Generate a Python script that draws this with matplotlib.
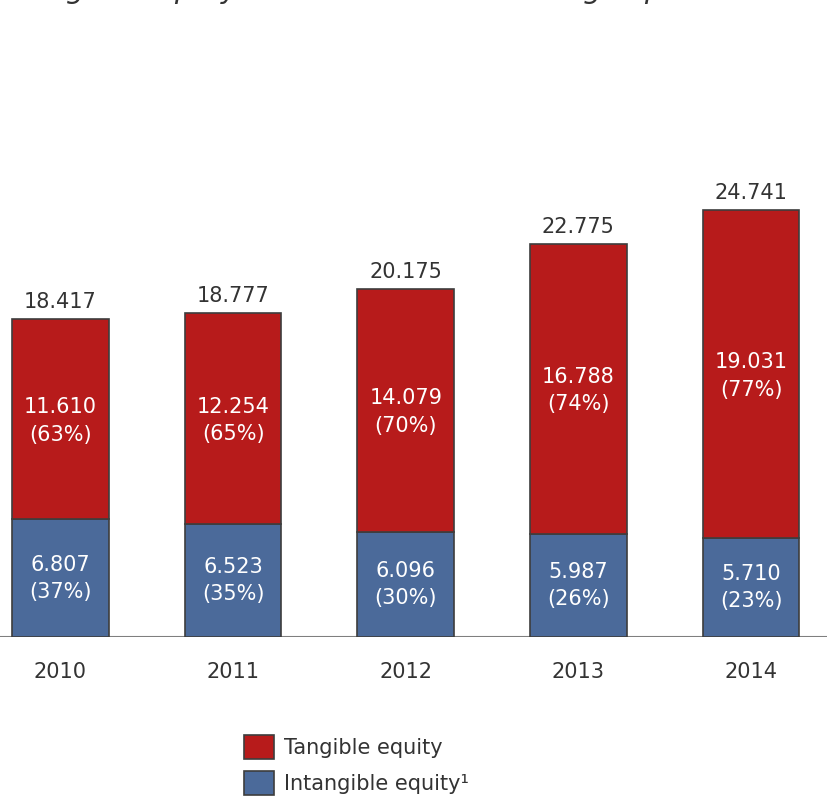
import numpy as np
import matplotlib
matplotlib.use("Agg")
import matplotlib.pyplot as plt
from matplotlib.patches import Patch

years = ["2010", "2011", "2012", "2013", "2014"]
intangible = [6.807, 6.523, 6.096, 5.987, 5.710]
tangible = [11.610, 12.254, 14.079, 16.788, 19.031]
totals = ["18.417", "18.777", "20.175", "22.775", "24.741"]
tangible_pct = ["63%", "65%", "70%", "74%", "77%"]
intangible_pct = ["37%", "35%", "30%", "26%", "23%"]

red = "#B71B1B"
blue = "#4B6A9A"
edge = "#3D3D3D"
txt = "#333333"

plt.rcParams["font.family"] = "DejaVu Sans"

fig = plt.figure(figsize=(8.27, 7.96), dpi=100)
ax = fig.add_axes([0, 0.2, 1, 0.8])

x = np.arange(len(years))
w = 0.56
tot = np.array(intangible) + np.array(tangible)

ax.bar(x, intangible, w, color=blue, edgecolor=edge, linewidth=1.2, zorder=2)
ax.bar(x, tangible, w, bottom=intangible, color=red, edgecolor=edge,
       linewidth=1.2, zorder=2)

for i in range(len(years)):
    ax.text(x[i], intangible[i] / 2, "%.3f\n(%s)" % (intangible[i], intangible_pct[i]),
            ha="center", va="center", color="white", fontsize=15,
            linespacing=1.45, zorder=3)
    ax.text(x[i], intangible[i] + tangible[i] / 2 - 0.1,
            "%.3f\n(%s)" % (tangible[i], tangible_pct[i]),
            ha="center", va="center", color="white", fontsize=15,
            linespacing=1.45, zorder=3)
    ax.text(x[i], tot[i] + 0.4, totals[i], ha="center", va="bottom",
            color=txt, fontsize=15)
    ax.text(x[i], -2.05, years[i], ha="center", va="center", color=txt,
            fontsize=15)

ax.set_xlim(-0.35, 4.44)
ax.set_ylim(0, 36.93)
ax.axhline(0, color="#7F7F7F", linewidth=1.5, zorder=1)
ax.axis("off")

# title sits mostly above the top edge of the figure
fig.text(0.018, 1.002, "Tangible equity and the best accounting capital",
         fontsize=21, style="italic", color=txt, ha="left", va="baseline")

handles = [Patch(facecolor=red, edgecolor=edge, linewidth=1.2),
           Patch(facecolor=blue, edgecolor=edge, linewidth=1.2)]
fig.legend(handles, ["Tangible equity", "Intangible equity\u00b9"],
           loc="upper left", bbox_to_anchor=(0.295, 0.077), frameon=False,
           fontsize=15, handlelength=1.43, handleheight=1.4,
           handletextpad=0.5, labelspacing=0.6, borderaxespad=0,
           borderpad=0, labelcolor=txt)

fig.savefig("out.png", dpi=100)
